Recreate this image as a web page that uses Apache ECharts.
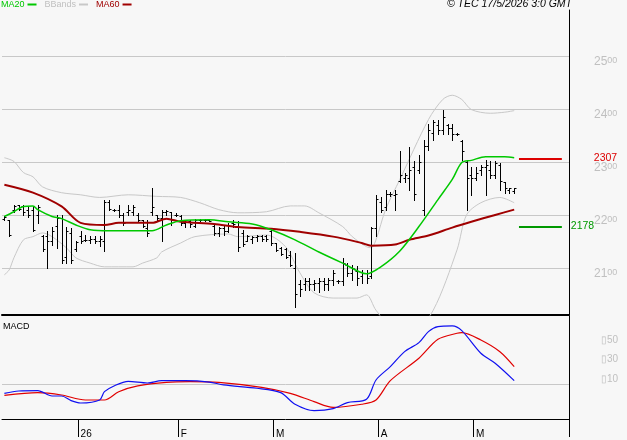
<!DOCTYPE html>
<html>
<head>
<meta charset="utf-8">
<script src="https://cdn.jsdelivr.net/npm/echarts@6/dist/echarts.min.js"></script>
<style>
  html, body { margin: 0; padding: 0; background: #f7f7f7; }
  #chart { width: 627px; height: 440px; }
</style>
</head>
<body>
<div id="chart"></div>
<script>
// daily bars [open, high, low, close], first bar around 9 Dec 2025
const ohlc = [
  [2192, 2198, 2190, 2197], [2190, 2191, 2160, 2163], [2210, 2219, 2206, 2216], [2218, 2219, 2210, 2212],
  [2217, 2219, 2200, 2205], [2210, 2216, 2197, 2200], [2210, 2216, 2169, 2172], [2200, 2219, 2184, 2215],
  [2160, 2163, 2131, 2135], [2160, 2169, 2100, 2150], [2150, 2178, 2144, 2170], [2180, 2200, 2137, 2195],
  [2195, 2200, 2109, 2115], [2120, 2178, 2109, 2170], [2165, 2175, 2109, 2115], [2135, 2150, 2131, 2148],
  [2160, 2169, 2147, 2150], [2152, 2163, 2150, 2153], [2152, 2160, 2147, 2155], [2155, 2161, 2147, 2150],
  [2150, 2160, 2141, 2155], [2150, 2229, 2131, 2225], [2225, 2229, 2210, 2212], [2210, 2212, 2208, 2210],
  [2210, 2219, 2197, 2200], [2200, 2203, 2181, 2185], [2205, 2219, 2200, 2210], [2205, 2219, 2200, 2215],
  [2200, 2203, 2188, 2190], [2190, 2191, 2178, 2180], [2175, 2191, 2160, 2165], [2205, 2251, 2200, 2215],
  [2200, 2200, 2191, 2195], [2195, 2210, 2150, 2205], [2205, 2210, 2200, 2208], [2205, 2206, 2181, 2190],
  [2200, 2203, 2198, 2200], [2198, 2200, 2181, 2185], [2185, 2191, 2178, 2190], [2188, 2191, 2178, 2182],
  [2180, 2192, 2178, 2190], [2191, 2192, 2189, 2190], [2190, 2192, 2189, 2191], [2191, 2192, 2188, 2189],
  [2180, 2181, 2163, 2165], [2165, 2178, 2160, 2175], [2175, 2181, 2163, 2170], [2170, 2184, 2168, 2180],
  [2185, 2191, 2178, 2182], [2180, 2188, 2131, 2140], [2165, 2172, 2141, 2145], [2150, 2163, 2150, 2160],
  [2155, 2160, 2147, 2158], [2158, 2163, 2150, 2160], [2160, 2163, 2150, 2155], [2160, 2163, 2150, 2155],
  [2170, 2172, 2144, 2147], [2147, 2147, 2131, 2133], [2138, 2140, 2125, 2127], [2135, 2137, 2118, 2120],
  [2125, 2131, 2103, 2105], [2100, 2128, 2027, 2050], [2070, 2077, 2046, 2060], [2070, 2080, 2058, 2075],
  [2075, 2080, 2058, 2070], [2070, 2077, 2058, 2072], [2072, 2080, 2055, 2075], [2075, 2080, 2058, 2070],
  [2070, 2080, 2058, 2078], [2078, 2096, 2068, 2090], [2075, 2077, 2071, 2075], [2075, 2118, 2068, 2110],
  [2105, 2109, 2084, 2090], [2090, 2106, 2077, 2100], [2095, 2103, 2068, 2080], [2085, 2096, 2071, 2090],
  [2090, 2096, 2071, 2080], [2085, 2178, 2080, 2175], [2175, 2238, 2160, 2230], [2225, 2233, 2206, 2210],
  [2215, 2248, 2210, 2240], [2240, 2243, 2236, 2240], [2238, 2248, 2210, 2240], [2265, 2320, 2263, 2275],
  [2270, 2279, 2263, 2275], [2270, 2329, 2248, 2285], [2290, 2301, 2229, 2240], [2285, 2314, 2279, 2300],
  [2210, 2342, 2200, 2330], [2330, 2371, 2323, 2360], [2355, 2380, 2342, 2375], [2370, 2380, 2352, 2360],
  [2360, 2399, 2352, 2385], [2370, 2371, 2352, 2365], [2365, 2371, 2342, 2352], [2352, 2354, 2350, 2352],
  [2340, 2342, 2304, 2320], [2300, 2304, 2210, 2270], [2275, 2291, 2238, 2270], [2270, 2291, 2266, 2280],
  [2285, 2295, 2275, 2290], [2290, 2304, 2238, 2295], [2285, 2301, 2270, 2275], [2275, 2301, 2270, 2298],
  [2295, 2298, 2248, 2265], [2262, 2263, 2241, 2250], [2248, 2251, 2241, 2250], [2245, 2251, 2241, 2250]
];

// indicator lines, [bar index, value]
const ma20 = [
  [0, 2197], [2, 2206], [4, 2216], [6, 2217], [7, 2210], [10, 2197], [12, 2193], [15, 2181], [18, 2172],
  [22, 2170], [26, 2170], [31, 2170], [34, 2181], [37, 2189], [43, 2191], [47, 2187], [52, 2183],
  [56, 2172], [61, 2153], [66, 2130], [71, 2109], [76, 2089], [79, 2102], [83, 2132], [87, 2178],
  [91, 2229], [94, 2267], [96, 2299], [98, 2303], [101, 2310], [105, 2310], [107, 2308]
];
const ma60 = [
  [0, 2257], [6, 2242], [12, 2216], [16, 2185], [21, 2181], [24, 2185], [31, 2185], [34, 2193],
  [37, 2187], [44, 2183], [49, 2177], [56, 2174], [62, 2168], [69, 2159], [75, 2147], [77, 2142],
  [82, 2144], [85, 2153], [89, 2161], [94, 2176], [98, 2187], [103, 2200], [107, 2210]
];
const bbUpper = [
  [0, 2308], [2, 2301], [4, 2280], [6, 2272], [8, 2253], [12, 2242], [16, 2238], [20, 2233], [26, 2238],
  [32, 2235], [37, 2233], [41, 2223], [45, 2210], [49, 2204], [55, 2206], [60, 2217], [63, 2217],
  [66, 2204], [71, 2178], [73, 2159], [76, 2140], [77, 2138], [78, 2153], [80, 2210], [83, 2267],
  [89, 2380], [92, 2418], [94, 2426], [96, 2418], [98, 2399], [102, 2392], [105, 2394], [107, 2397]
];
const bbLower = [
  [0, 2087], [1, 2096], [2, 2119], [4, 2153], [6, 2159], [8, 2166], [10, 2159], [13, 2138], [15, 2119],
  [18, 2109], [21, 2102], [27, 2102], [29, 2109], [32, 2119], [33, 2130], [37, 2147], [40, 2159],
  [47, 2164], [49, 2159], [55, 2162], [59, 2140], [62, 2091], [65, 2053], [69, 2043], [74, 2043],
  [76, 2049], [78, 2020], [82, 1983], [86, 1983], [90, 2020], [95, 2134], [97, 2200], [100, 2223],
  [104, 2233], [107, 2223]
];
const macd = [
  [0, -9.6], [3, -7.2], [7, -6.8], [10, -12.3], [12, -12.3], [14, -17], [16, -19.5], [20, -16.4],
  [21, -7.9], [23, -2], [26, 2.7], [30, 1], [33, 3.4], [38, 3.4], [43, 2], [46, -1], [53, -4.4],
  [58, -8.9], [61, -20.8], [65, -27.3], [69, -25.3], [72, -19.1], [76, -15.7], [78, 4.1], [81, 17.8],
  [84, 33.2], [87, 42.4], [89, 53.7], [91, 58.8], [94, 59.5], [96, 54.7], [100, 31.5], [103, 21.2],
  [107, 3.4]
];
const signal = [
  [0, -11.6], [7, -8.9], [12, -11.3], [17, -16.4], [21, -16.4], [24, -7.9], [28, -2], [34, 1.7],
  [39, 2.4], [45, 1.7], [54, -3.4], [60, -9.6], [65, -18.1], [69, -24], [75, -20.8], [78, -16.4],
  [81, 3.4], [87, 26.4], [91, 45.8], [95, 52], [96, 52.6], [100, 45.1], [104, 33.1], [107, 17.8]
];

const lastLevels = [2307, 2178];
const priceTicks = [2100, 2200, 2300, 2400, 2500];
const macdTicks = [10, 30, 50];
const monthTicks = [16, 37, 57, 79, 99];
const monthNames = ['26', 'F', 'M', 'A', 'M'];
const nSlots = 119;
const slots = Array.from({ length: nSlots }, (_, i) => String(i));

const FONT = 'Liberation Sans';
const GREEN = '#00c800';
const DARKRED = '#a00000';
const GREY = '#c8c8c8';

function renderOhlc(params, api) {
  const i = api.value(0);
  const o = api.coord([i, api.value(1)]);
  const h = api.coord([i, api.value(2)]);
  const l = api.coord([i, api.value(3)]);
  const c = api.coord([i, api.value(4)]);
  const x = Math.round(h[0]) + 0.5;
  const yo = Math.round(o[1]) + 0.5;
  const yc = Math.round(c[1]) + 0.5;
  const style = { stroke: '#000', lineWidth: 1 };
  return {
    type: 'group',
    children: [
      { type: 'line', shape: { x1: x, y1: Math.round(h[1]), x2: x, y2: Math.round(l[1]) + 1 }, style },
      { type: 'line', shape: { x1: x - 2, y1: yo, x2: x, y2: yo }, style },
      { type: 'line', shape: { x1: x, y1: yc, x2: x + 2, y2: yc }, style }
    ]
  };
}

const chart = echarts.init(document.getElementById('chart'), null, { renderer: 'canvas' });

chart.setOption({
  animation: false,
  backgroundColor: '#f7f7f7',
  textStyle: { fontFamily: FONT },
  title: [
    {
      text: '© TEC 17/5/2026 3:0 GMT',
      right: 55,
      top: -1,
      padding: 0,
      textStyle: { fontFamily: FONT, fontSize: 10.5, fontStyle: 'italic', fontWeight: 'normal', color: '#000' }
    },
    {
      text: 'MACD',
      left: 3,
      top: 322,
      padding: 0,
      textStyle: { fontFamily: FONT, fontSize: 9, fontWeight: 'normal', color: '#000' }
    }
  ],
  legend: {
    left: 1,
    top: 0,
    padding: 0,
    align: 'right',
    icon: 'rect',
    itemGap: 8,
    itemWidth: 9,
    itemHeight: 2,
    textStyle: { fontFamily: FONT, fontSize: 9, padding: [0, -2, 0, 0] },
    data: [
      { name: 'MA20', textStyle: { color: GREEN } },
      { name: 'BBands', textStyle: { color: '#c0c0c0' } },
      { name: 'MA60', textStyle: { color: DARKRED } }
    ]
  },
  grid: [
    { left: 2, width: 567, top: 10, height: 305 },
    { left: 2, width: 567, top: 316, height: 103 }
  ],
  xAxis: [
    {
      type: 'category',
      gridIndex: 0,
      data: slots,
      boundaryGap: true,
      axisLine: { show: true, onZero: false, lineStyle: { color: '#000', width: 2 } },
      axisTick: { show: false },
      axisLabel: { show: false },
      splitLine: { show: false }
    },
    {
      type: 'category',
      gridIndex: 1,
      data: slots,
      boundaryGap: true,
      axisLine: { show: true, onZero: false, lineStyle: { color: '#000', width: 1 } },
      axisTick: {
        show: true,
        length: 18,
        interval: (idx) => monthTicks.includes(idx),
        lineStyle: { color: '#000', width: 1 }
      },
      axisLabel: {
        show: true,
        interval: (idx) => monthTicks.includes(idx),
        formatter: (v, idx) => monthNames[monthTicks.indexOf(idx)] || '',
        align: 'left',
        margin: 10,
        fontSize: 10,
        color: '#000'
      },
      splitLine: { show: false }
    }
  ],
  yAxis: [
    {
      type: 'value',
      gridIndex: 0,
      position: 'right',
      min: 2011,
      max: 2587,
      axisLine: { show: true, lineStyle: { color: '#000', width: 1 } },
      axisTick: { show: false },
      splitLine: { show: true, showMinLine: false, showMaxLine: false, lineStyle: { color: GREY, width: 1 } },
      axisLabel: {
        customValues: priceTicks,
        align: 'left',
        verticalAlign: 'top',
        margin: 25,
        color: '#c0c0c0',
        formatter: (v) => '{a|' + Math.round(v / 100) + '}{b|00}',
        rich: {
          a: { fontSize: 12, color: '#c0c0c0', fontFamily: FONT, lineHeight: 12 },
          b: { fontSize: 9, color: '#c0c0c0', fontFamily: FONT, verticalAlign: 'top', lineHeight: 12 }
        }
      }
    },
    {
      type: 'value',
      gridIndex: 1,
      position: 'right',
      min: -35.9,
      max: 69.7,
      axisLine: { show: true, lineStyle: { color: '#000', width: 1 } },
      axisTick: { show: false },
      splitLine: { show: false },
      axisLabel: {
        customValues: macdTicks,
        align: 'left',
        verticalAlign: 'top',
        margin: 32,
        fontSize: 10,
        color: '#c0c0c0',
        formatter: (v) => '▯' + v
      }
    }
  ],
  series: [
    {
      name: 'BBands',
      type: 'line',
      xAxisIndex: 0,
      yAxisIndex: 0,
      data: bbUpper,
      showSymbol: false,
      smooth: 0.3,
      lineStyle: { color: GREY, width: 1 },
      itemStyle: { color: GREY },
      z: 1
    },
    {
      name: 'BBands',
      type: 'line',
      xAxisIndex: 0,
      yAxisIndex: 0,
      data: bbLower,
      showSymbol: false,
      smooth: 0.3,
      lineStyle: { color: GREY, width: 1 },
      itemStyle: { color: GREY },
      z: 1
    },
    {
      name: 'OHLC',
      type: 'custom',
      xAxisIndex: 0,
      yAxisIndex: 0,
      renderItem: renderOhlc,
      data: ohlc.map((d, i) => [i].concat(d)),
      encode: { x: 0, y: [1, 2, 3, 4] },
      z: 3,
      markLine: {
        silent: true,
        symbol: 'none',
        data: [
          [
            { coord: [108, lastLevels[0]], lineStyle: { color: '#dd0000', width: 2, type: 'solid' },
              label: { show: true, position: 'end', distance: 32, formatter: String(lastLevels[0]), color: '#dd0000', fontSize: 10.5, fontFamily: FONT } },
            { coord: [117, lastLevels[0]] }
          ],
          [
            { coord: [108, lastLevels[1]], lineStyle: { color: '#009900', width: 2, type: 'solid' },
              label: { show: true, position: 'end', distance: 9, formatter: String(lastLevels[1]), color: '#009900', fontSize: 10.5, fontFamily: FONT } },
            { coord: [117, lastLevels[1]] }
          ]
        ]
      }
    },
    {
      name: 'MA60',
      type: 'line',
      xAxisIndex: 0,
      yAxisIndex: 0,
      data: ma60,
      showSymbol: false,
      smooth: 0.3,
      lineStyle: { color: DARKRED, width: 2 },
      itemStyle: { color: DARKRED },
      z: 4
    },
    {
      name: 'MA20',
      type: 'line',
      xAxisIndex: 0,
      yAxisIndex: 0,
      data: ma20,
      showSymbol: false,
      smooth: 0.3,
      lineStyle: { color: GREEN, width: 1.5 },
      itemStyle: { color: GREEN },
      z: 5
    },
    {
      name: 'Signal',
      type: 'line',
      xAxisIndex: 1,
      yAxisIndex: 1,
      data: signal,
      showSymbol: false,
      smooth: 0.3,
      lineStyle: { color: '#e00000', width: 1.2 },
      z: 4,
      markLine: {
        silent: true,
        symbol: 'none',
        label: { show: false },
        lineStyle: { color: GREY, width: 1, type: 'solid' },
        data: [{ yAxis: 0 }],
        z: 1
      }
    },
    {
      name: 'MACD',
      type: 'line',
      xAxisIndex: 1,
      yAxisIndex: 1,
      data: macd,
      showSymbol: false,
      smooth: 0.3,
      lineStyle: { color: '#1010f0', width: 1.2 },
      z: 5
    }
  ]
});
</script>
</body>
</html>
